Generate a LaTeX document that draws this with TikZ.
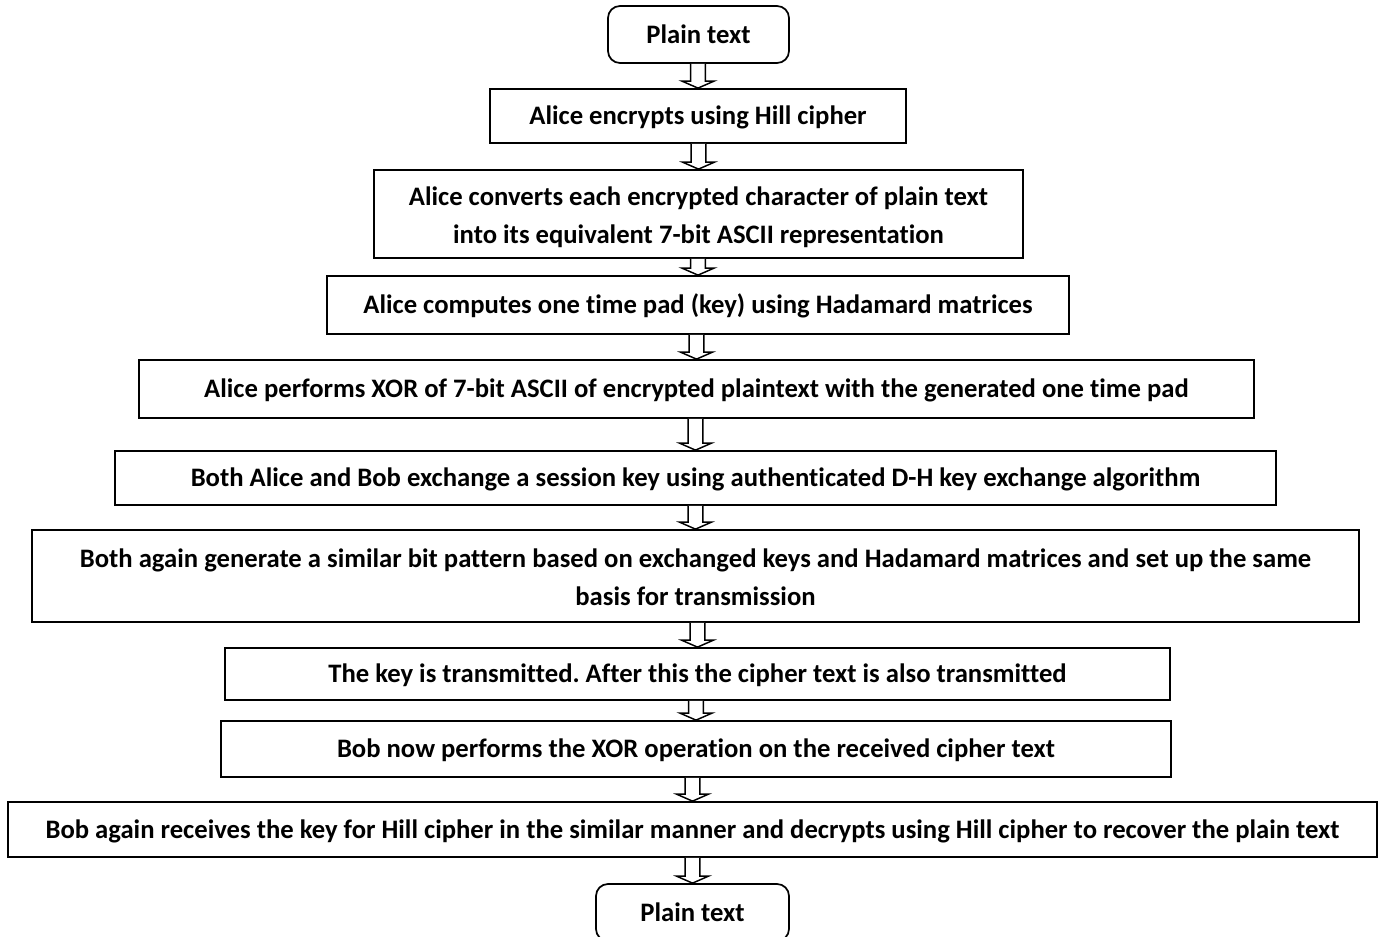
\documentclass[tikz,border=0pt]{standalone}
\usepackage{fontspec}
\setmainfont{Carlito}[Ligatures=NoCommon]
\usetikzlibrary{calc}
\frenchspacing

\tikzset{
  stepbox/.style={draw=black, line width=1.3pt, fill=white, inner sep=0pt,
    align=center, font=\fontsize{20}{28.5}\selectfont\bfseries,
    % struts keep the capitals centred in the box
    execute at begin node={\rule{0pt}{18pt}},
    execute at end node={\rule[-5pt]{0pt}{5pt}}},
  endbox/.style={stepbox, rounded corners=9pt},
  blockarr/.style={draw=black, line width=1.1pt, fill=white, line join=miter}
}

% a line of a two-line box, set a little lower
\newcommand\lowline[1]{\raisebox{-10.5pt}[0pt][0pt]{#1}}

% hollow block arrow from the bottom of one box to the top of the next
\newcommand\flowarrow[2]{%
  \draw[blockarr] let \p1=(#1.south), \p2=(#2.north) in
    (\x2-5.5pt,\y1) -- (\x2-5.5pt,\y2+5.25pt) -- (\x2-12pt,\y2+5.25pt)
    -- (\x2,\y2) -- (\x2+12pt,\y2+5.25pt) -- (\x2+5.5pt,\y2+5.25pt)
    -- (\x2+5.5pt,\y1);%
}

\begin{document}
\begin{tikzpicture}[x=0.75pt,y=-0.75pt]
\useasboundingbox (0,0) rectangle (1383,937);

\node[endbox, minimum width=135.75pt, minimum height=42.75pt] (p1) at (698.5,34.5) {Plain text};
\node[stepbox, minimum width=312pt, minimum height=40.5pt] (s1) at (698,116) {Alice encrypts using Hill cipher};
\node[stepbox, minimum width=486.75pt, minimum height=66pt] (s2) at (698.5,214)
  {\lowline{Alice converts each encrypted character of plain text}\\
   \lowline{into its equivalent 7-bit ASCII representation}};
\node[stepbox, minimum width=556.5pt, minimum height=43.5pt] (s3) at (698,305)
  {Alice computes one time pad (key) using Hadamard matrices};
\node[stepbox, minimum width=836.25pt, minimum height=43.5pt] (s4) at (696.5,389)
  {Alice performs XOR of 7-bit ASCII of encrypted plaintext with the generated one time pad};
\node[stepbox, minimum width=870.75pt, minimum height=40.5pt] (s5) at (695.5,478)
  {Both Alice and Bob exchange a session key using authenticated D-H key exchange algorithm};
\node[stepbox, minimum width=995.25pt, minimum height=69pt] (s6) at (695.5,576)
  {\lowline{Both again generate a similar bit pattern based on exchanged keys and Hadamard matrices and set up the same}\\
   \lowline{basis for transmission}};
\node[stepbox, minimum width=708.75pt, minimum height=39pt] (s7) at (697.5,674)
  {The key is transmitted. After this the cipher text is also transmitted};
\node[stepbox, minimum width=712.5pt, minimum height=42pt] (s8) at (696,749)
  {Bob now performs the XOR operation on the received cipher text};
\node[stepbox, minimum width=1026.75pt, minimum height=41.25pt] (s9) at (692.5,829.5)
  {Bob again receives the key for Hill cipher in the similar manner and decrypts using Hill cipher to recover the plain text};
\node[endbox, minimum width=144.75pt, minimum height=42.75pt] (p2) at (692.5,912.5) {Plain text};

\flowarrow{p1}{s1}
\flowarrow{s1}{s2}
\flowarrow{s2}{s3}
\flowarrow{s3}{s4}
\flowarrow{s4}{s5}
\flowarrow{s5}{s6}
\flowarrow{s6}{s7}
\flowarrow{s7}{s8}
\flowarrow{s8}{s9}
\flowarrow{s9}{p2}
\end{tikzpicture}
\end{document}
